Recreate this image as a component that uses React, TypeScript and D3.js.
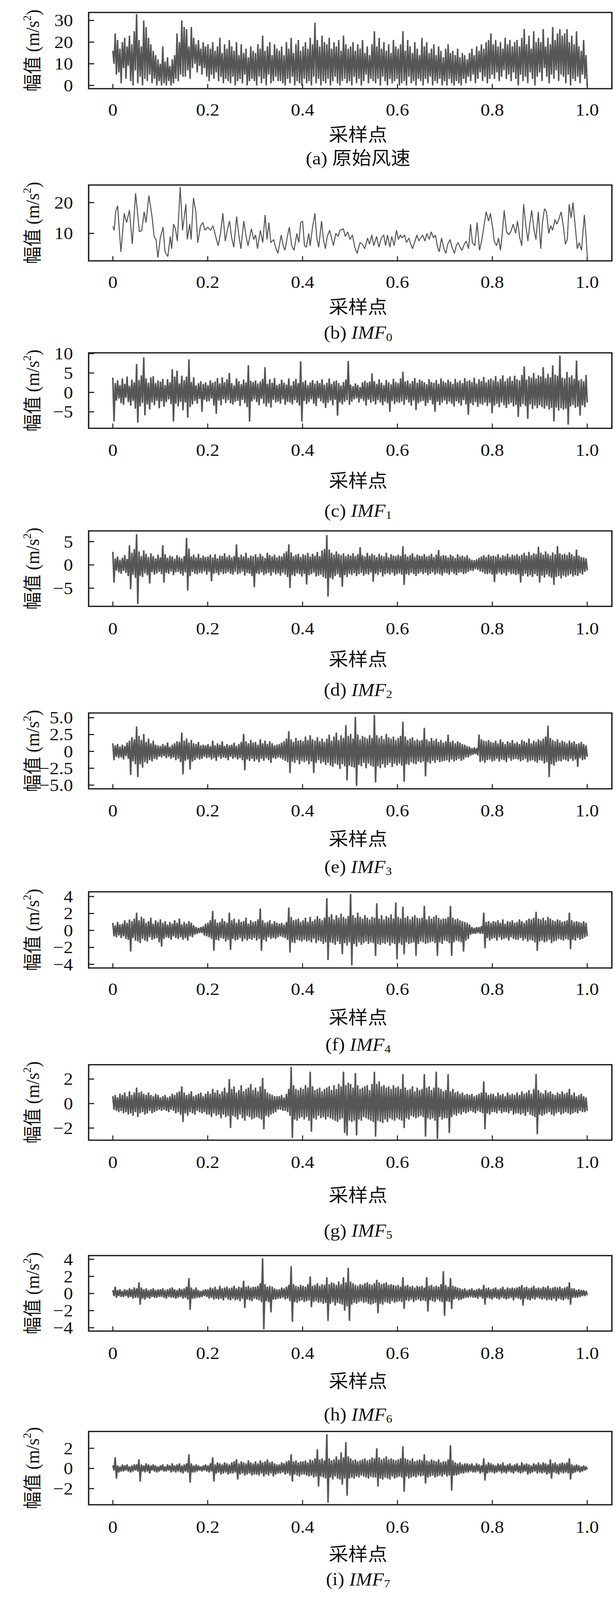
import React from 'react';
import * as d3 from 'd3';

// ---------- shared axis data ----------
const xTickValues = [0, 0.2, 0.4, 0.6, 0.8, 1.0];
const xTickLabels = ['0', '0.2', '0.4', '0.6', '0.8', '1.0'];
const xDomain: [number, number] = [-0.051, 1.052];

// ---------- (a) original wind speed ----------
const windSpeed = [
  16,10,24,5,21,6,17,1,20,8,22,3,18,9,23,2,19,0,25,7,
  33,1,21,4,18,0,30,3,27,2,22,5,19,1,16,3,14,0,12,2,
  10,0,18,1,11,0,13,2,9,0,12,1,14,3,24,2,20,5,30,4,
  27,4,26,7,18,3,27,8,22,10,19,6,21,9,17,5,20,8,18,4,
  19,2,17,5,20,3,16,6,18,2,22,4,15,1,19,3,17,2,21,1,
  18,4,16,0,20,2,14,3,19,1,15,5,17,0,13,2,18,3,16,2,
  15,0,19,4,17,1,23,3,16,0,18,5,20,1,14,2,19,4,17,2,
  16,2,18,1,14,0,20,3,17,1,22,4,15,0,19,2,21,1,16,0,
  18,3,20,1,17,2,22,0,19,4,29,1,21,3,18,0,23,2,20,1,
  19,3,22,0,17,2,20,4,18,1,21,0,16,2,23,3,19,1,17,2,
  18,0,20,4,16,1,19,3,17,0,21,2,15,5,18,1,14,3,19,2,
  25,1,18,3,22,0,17,4,20,2,16,0,19,3,15,1,21,2,18,3,
  17,0,19,1,25,2,16,0,21,4,18,1,15,2,20,0,17,3,14,2,
  22,0,18,3,20,1,15,4,17,0,19,2,14,1,18,3,16,0,13,2,
  17,0,19,3,15,1,16,0,14,2,17,1,13,0,15,3,14,1,12,4,
  15,2,17,5,14,1,18,3,16,6,19,2,17,4,20,1,21,3,24,5,
  19,3,21,6,18,2,20,4,17,7,22,3,19,5,21,2,18,6,20,3,
  21,0,18,5,22,2,26,4,19,1,23,6,17,3,25,0,20,4,22,6,
  20,2,26,8,18,4,22,1,19,5,27,3,21,7,24,2,26,5,23,4,
  24,1,26,5,20,0,23,3,19,2,25,4,18,1,16,5,21,3,14,0,
];

// ---------- (b) IMF0 : sampling position and value ----------
const imf0T = [
  0,0.003,0.006,0.010,0.017,0.024,0.029,0.035,0.041,0.048,0.056,0.061,0.066,0.070,0.076,0.083,0.087,0.091,0.095,0.100,
  0.106,0.110,0.116,0.121,0.124,0.128,0.132,0.136,0.142,0.147,0.154,0.157,0.162,0.165,0.170,0.175,0.179,0.185,0.190,0.194,
  0.200,0.206,0.211,0.216,0.222,0.227,0.232,0.237,0.242,0.246,0.250,0.255,0.261,0.266,0.270,0.276,0.281,0.285,0.292,0.297,
  0.301,0.305,0.311,0.316,0.321,0.325,0.329,0.333,0.339,0.343,0.348,0.355,0.359,0.363,0.368,0.372,0.377,0.382,0.388,0.392,
  0.396,0.400,0.404,0.408,0.413,0.416,0.421,0.426,0.430,0.434,0.440,0.444,0.448,0.452,0.457,0.461,0.465,0.470,0.475,0.479,
  0.486,0.490,0.495,0.500,0.505,0.510,0.515,0.521,0.526,0.531,0.537,0.541,0.546,0.550,0.556,0.561,0.566,0.571,0.575,0.579,
  0.584,0.588,0.593,0.598,0.602,0.606,0.610,0.615,0.619,0.624,0.628,0.632,0.637,0.641,0.645,0.649,0.653,0.658,0.662,0.667,
  0.671,0.676,0.680,0.684,0.688,0.693,0.698,0.702,0.706,0.711,0.715,0.720,0.724,0.728,0.732,0.736,0.741,0.745,0.750,0.754,
  0.758,0.763,0.768,0.773,0.778,0.782,0.787,0.792,0.796,0.801,0.804,0.809,0.813,0.817,0.821,0.825,0.830,0.835,0.840,0.844,
  0.849,0.853,0.858,0.862,0.866,0.871,0.875,0.879,0.883,0.888,0.892,0.897,0.902,0.906,0.910,0.914,0.919,0.923,0.927,0.932,
  0.936,0.940,0.945,0.950,0.954,0.958,0.962,0.966,0.970,0.975,0.979,0.983,0.988,0.994,0.998,1.0,
];
const imf0V = [
  12.3,11,17,19,4,16.5,13.5,17.5,6.5,23,10.5,11,17,13.5,22.3,15,9,8,2.1,8.5,
  12,4,2.5,9,5,13,11.5,7.5,25,11,19.5,8,13,8,21.5,17,7,12.5,13.5,11,
  12,11,12.5,9.5,6,10,16.5,7.5,11.5,14,9,5.5,15.5,9,5,14,9,6,11.5,8,
  9.5,5,11,7,16,8,13.5,7,8,5.5,3.5,9.5,6,4.5,9,12,6,4.5,10,7,
  13.5,14,6,5.5,10,6,12,16.5,8.5,5.5,14,8,5,9,11,8.5,6,10,9,11,
  11.5,9,10.5,8,9.5,5.5,3.5,7,6.5,5,8.5,6.5,9.5,6,9,5.5,8.5,9.5,6,9.5,
  5.5,9,6,11,8,9.5,8.5,9.5,7,8.5,6.5,5,7.5,9.5,7.5,8.5,9.5,7.5,10,8,
  10.5,8.5,9.5,6,4,8.5,5,3.5,6.5,8,5.5,3.5,6,7,5.5,4.5,6.5,7.5,5,13,
  7,6,13.5,4.5,8,12,17,14,16.5,11.5,7.5,6,8.5,4.5,10,17.5,10.5,9.5,11,13,
  10,14,8.5,6,19.5,12,7.5,13,17.5,11,8,17,5,14,18,17,10,12.5,11,14.5,
  13,14.5,17,12,6.5,8,19.5,15,20,12,5,7,4.5,16,8,2.7,
];

// ---------- (c)-(i) IMF1..IMF7 ----------
const imf1 = [
  3.8,-7.5,2.4,-2.1,3.1,-1.6,1.9,-2.8,3.6,-3.2,2.2,-1.4,4.1,-2.5,1.7,-3.4,3.3,-2.2,2.6,-4.2,
  7.3,-7.8,3.2,-3.6,4.4,-2.7,9.0,-5.9,3.6,-3.1,2.5,-4.4,3.9,-2.6,4.2,-3.3,2.4,-2.2,3.1,-4.1,
  2.8,-2.3,3.5,-3.7,1.9,-2.5,3.4,-1.8,2.6,-3.0,6.0,-7.5,4.1,-2.9,5.6,-3.6,2.3,-2.4,4.3,-4.6,
  3.2,-2.6,4.1,-6.5,8.5,-3.8,2.7,-3.1,3.9,-2.2,1.8,-2.9,2.4,-1.7,2.9,-5.0,2.2,-1.9,2.6,-2.4,
  1.9,-2.3,3.1,-1.6,2.5,-3.4,2.8,-5.5,3.7,-2.1,2.3,-3.3,3.9,-1.8,2.6,-2.7,3.4,-2.0,5.0,-2.8,
  2.4,-3.1,1.8,-2.4,3.6,-2.2,2.9,-3.5,2.1,-1.9,3.3,-2.8,2.6,-3.8,7.0,-7.5,3.0,-2.3,2.7,-1.8,
  3.1,-2.5,2.3,-3.3,2.8,-1.7,3.5,-2.9,6.5,-3.6,2.2,-2.8,3.4,-3.9,2.5,-1.9,3.7,-2.6,1.9,-2.4,
  2.2,-2.9,3.3,-1.8,2.5,-3.2,2.0,-2.4,3.6,-2.6,1.8,-3.1,2.9,-2.0,3.5,-2.7,2.4,-3.4,8.0,-7.5,
  2.7,-2.2,3.1,-3.0,1.9,-2.5,2.6,-1.8,3.2,-2.9,2.3,-3.5,3.0,-1.6,2.4,-2.3,3.4,-2.8,2.0,-4.0,
  2.5,-2.7,3.6,-2.1,2.2,-3.3,2.9,-1.9,3.1,-6.0,2.4,-2.6,1.8,-3.1,2.7,-2.4,3.3,-2.0,8.1,-3.2,
  2.0,-2.4,1.6,-1.8,2.3,-1.5,1.9,-2.6,1.4,-1.7,2.6,-2.2,3.0,-3.4,2.5,-1.9,2.8,-2.7,4.9,-2.3,
  2.9,-3.1,2.2,-2.0,3.4,-2.6,2.5,-3.3,1.9,-2.4,3.2,-2.8,2.6,-5.0,2.1,-2.2,3.5,-3.0,2.7,-2.5,
  2.4,-2.7,3.6,-2.3,5.3,-3.2,2.8,-1.9,3.1,-2.6,2.3,-3.4,2.9,-2.1,3.7,-4.6,2.5,-2.8,3.3,-2.4,
  3.0,-2.2,2.6,-3.5,2.1,-2.7,3.4,-2.0,2.7,-3.1,2.5,-5.0,3.2,-2.4,2.2,-3.3,3.6,-2.6,2.9,-2.1,
  2.5,-3.0,3.3,-2.4,2.8,-2.9,2.2,-3.6,3.5,-2.3,2.6,-2.8,3.1,-3.4,2.4,-2.0,3.7,-3.1,2.9,-5.8,
  3.2,-2.8,2.7,-3.3,3.8,-2.5,2.3,-3.7,3.4,-2.9,2.9,-3.2,4.0,-2.6,2.6,-3.5,3.3,-2.7,3.6,-5.4,
  3.1,-3.4,4.2,-2.9,2.8,-3.8,3.5,-2.6,4.4,-3.3,2.9,-4.0,3.6,-3.1,4.1,-2.7,3.0,-3.6,4.3,-3.2,
  3.4,-6.3,3.1,-3.7,4.5,-3.0,6.7,-3.5,3.3,-6.8,4.2,-3.1,3.8,-4.3,5.0,-3.4,3.6,-4.1,4.4,-3.3,
  4.1,-3.8,6.5,-4.2,3.7,-3.5,4.8,-4.4,3.9,-4.0,7.0,-7.5,4.6,-3.9,4.3,-4.7,9.5,-4.1,3.8,-4.5,
  3.6,-4.2,5.3,-8.3,3.9,-3.6,4.4,-3.2,3.5,-4.0,8.2,-3.7,3.1,-6.0,3.4,-3.3,2.9,-3.8,4.5,-2.6,
];

const imf2 = [
  2.8,-3.8,1.4,-1.2,1.8,-1.6,1.1,-1.9,1.5,-1.3,2.1,-1.7,1.3,-2.4,4.2,-5.2,2.6,-2.1,3.4,-2.8,
  6.6,-8.4,2.9,-2.3,1.9,-2.6,3.1,-1.8,2.4,-2.2,1.7,-4.0,2.5,-1.6,1.9,-2.1,1.4,-1.8,2.2,-1.5,
  1.6,-2.0,4.2,-3.8,2.3,-1.7,1.5,-1.9,2.0,-1.4,1.8,-2.2,1.3,-1.6,2.1,-1.5,1.7,-1.9,1.4,-2.3,
  1.9,-1.6,5.8,-5.5,3.5,-2.4,1.8,-1.5,2.2,-1.9,1.6,-2.0,2.4,-1.7,1.5,-1.8,2.0,-1.4,1.7,-2.1,
  1.8,-1.5,2.2,-3.5,1.6,-1.9,2.3,-1.7,1.4,-2.2,2.0,-1.6,1.9,-2.0,2.5,-1.8,1.7,-1.5,2.1,-1.9,
  1.6,-2.1,1.9,-1.5,4.4,-2.0,1.7,-1.8,2.2,-1.4,1.8,-2.3,2.6,-1.7,1.5,-1.9,2.0,-2.4,1.9,-4.8,
  2.3,-1.8,1.7,-2.0,2.4,-1.6,1.9,-2.2,1.5,-1.9,2.6,-1.7,2.1,-2.3,1.8,-1.6,2.2,-2.0,1.6,-1.8,
  2.0,-2.3,1.8,-1.7,2.5,-2.1,2.9,-2.6,4.4,-5.0,2.7,-2.2,1.9,-2.4,2.2,-1.8,2.4,-2.0,1.7,-2.5,
  2.3,-1.9,2.1,-4.2,2.6,-2.2,1.8,-2.0,2.4,-1.7,2.0,-2.5,2.8,-2.3,1.9,-2.1,3.1,-2.6,3.4,-2.9,
  6.4,-6.8,3.3,-2.8,2.6,-3.1,2.2,-2.4,2.9,-2.0,2.4,-2.7,2.1,-4.7,2.5,-2.2,1.9,-2.6,2.3,-1.9,
  2.0,-2.2,2.5,-1.8,1.9,-2.4,2.3,-2.0,3.8,-1.7,2.1,-2.3,1.8,-1.9,2.6,-2.1,2.0,-1.6,2.4,-3.6,
  2.1,-1.9,1.7,-2.2,2.4,-1.6,2.0,-2.5,1.8,-2.0,2.6,-1.8,1.6,-2.1,2.3,-1.7,2.0,-2.3,1.9,-2.0,
  2.2,-1.8,1.9,-2.1,4.0,-4.3,2.3,-2.0,1.8,-2.2,2.1,-1.7,2.5,-2.0,1.7,-2.4,2.2,-1.9,2.0,-1.6,
  1.9,-2.0,2.3,-1.7,1.8,-2.2,2.0,-1.9,2.4,-1.6,1.7,-2.1,2.2,-1.8,3.2,-2.0,1.9,-2.3,2.1,-1.7,
  2.0,-1.8,1.6,-2.1,2.2,-1.5,1.9,-1.9,1.5,-2.2,2.3,-1.7,1.8,-1.6,2.0,-2.0,1.7,-1.8,2.1,-1.5,
  1.4,-1.2,1.1,-1.3,1.0,-0.9,1.2,-1.1,1.5,-1.4,1.8,-1.6,2.1,-1.9,1.7,-2.0,2.2,-1.8,1.9,-2.1,
  2.0,-3.7,1.8,-2.0,2.3,-1.7,1.6,-2.1,2.1,-1.8,1.9,-2.3,2.4,-1.6,1.7,-2.0,2.2,-1.9,2.0,-2.2,
  2.3,-2.0,1.9,-3.8,2.2,-2.4,2.6,-1.9,2.0,-2.5,2.8,-2.2,2.1,-2.6,2.5,-2.0,2.3,-2.4,3.9,-3.8,
  2.6,-2.3,2.2,-2.7,2.9,-2.1,2.4,-2.5,2.0,-2.8,2.7,-4.3,2.3,-2.6,4.0,-2.4,2.5,-2.9,2.2,-2.3,
  2.4,-2.6,2.1,-2.3,2.7,-2.0,2.3,-2.5,1.9,-2.2,3.3,-2.4,2.0,-1.8,1.7,-2.1,1.6,-1.5,1.4,-1.2,
];

const imf3 = [
  1.2,-1.3,0.9,-0.8,1.1,-1.0,0.7,-0.9,1.0,-1.2,0.8,-0.7,1.3,-1.1,1.6,-3.5,2.1,-1.5,1.8,-1.9,
  3.7,-3.8,2.3,-1.9,1.7,-2.4,2.6,-1.6,1.4,-1.8,1.9,-1.3,1.2,-1.5,1.6,-1.1,1.0,-1.2,0.9,-0.8,
  0.8,-0.9,1.1,-0.7,0.9,-1.0,1.3,-0.8,0.7,-1.1,1.0,-0.9,1.2,-1.3,1.5,-1.1,1.4,-1.6,2.8,-3.4,
  1.6,-1.4,1.9,-1.2,1.3,-2.7,1.7,-1.5,1.2,-1.3,1.1,-1.0,1.4,-1.2,0.9,-1.1,1.0,-0.8,0.9,-1.0,
  1.1,-0.9,0.8,-1.2,1.6,-1.0,0.9,-1.4,1.2,-0.8,1.0,-1.1,1.5,-0.9,0.8,-1.0,1.1,-1.3,0.9,-0.8,
  1.0,-1.1,1.3,-0.9,0.8,-1.2,1.1,-1.0,1.4,-1.3,2.6,-2.8,1.5,-1.2,1.2,-1.4,1.7,-1.1,1.3,-1.5,
  1.4,-1.2,1.0,-1.6,1.8,-1.1,1.2,-1.4,1.6,-1.0,1.1,-1.3,1.5,-1.7,1.2,-1.0,0.9,-1.1,1.0,-0.9,
  1.1,-1.0,1.3,-1.2,1.5,-1.4,1.9,-1.6,3.0,-3.2,1.8,-1.5,1.4,-1.7,2.0,-1.3,1.6,-1.9,1.7,-1.4,
  1.5,-1.6,2.2,-1.4,1.7,-1.9,2.4,-1.5,1.8,-3.2,1.6,-1.7,2.1,-1.3,1.5,-1.8,1.9,-1.6,1.4,-2.0,
  1.9,-1.7,2.5,-2.1,1.6,-2.3,2.2,-1.8,2.8,-2.0,1.7,-2.6,2.4,-1.9,2.0,-2.2,3.9,-4.3,2.3,-2.1,
  2.6,-2.3,1.9,-2.4,5.1,-5.1,2.5,-2.0,1.8,-2.2,2.3,-1.7,2.1,-2.5,1.9,-1.8,2.4,-2.1,2.0,-2.3,
  5.4,-4.6,2.4,-2.2,2.0,-2.5,2.3,-1.9,1.8,-2.4,2.6,-2.0,2.1,-1.7,1.9,-2.3,2.2,-1.8,1.7,-2.1,
  2.0,-1.8,2.3,-2.1,4.4,-4.5,2.2,-1.9,1.7,-2.0,1.9,-1.6,2.1,-1.8,1.6,-1.9,1.8,-1.5,1.6,-1.7,
  1.7,-1.5,3.5,-3.7,1.8,-1.6,1.5,-1.8,2.0,-1.4,1.6,-1.7,1.9,-1.3,1.4,-1.6,1.7,-1.5,1.3,-1.4,
  1.5,-1.3,2.5,-1.6,1.4,-1.2,1.6,-1.5,1.2,-1.3,1.5,-1.1,1.3,-1.4,1.1,-1.2,1.0,-0.9,0.8,-0.9,
  0.7,-0.6,0.5,-0.5,0.6,-0.4,0.5,-0.6,2.5,-1.6,1.8,-1.4,1.6,-1.7,1.5,-1.3,1.7,-1.2,1.4,-1.5,
  1.3,-1.4,1.6,-1.1,1.2,-1.5,1.8,-1.2,1.4,-1.3,1.1,-1.6,1.5,-1.0,1.3,-1.4,1.7,-1.2,1.2,-1.1,
  1.4,-1.2,1.1,-1.5,1.7,-1.3,1.5,-1.1,1.3,-1.6,1.9,-1.4,1.2,-1.3,1.6,-1.5,1.4,-1.7,1.8,-1.3,
  1.6,-1.4,1.9,-1.8,2.2,-1.6,3.8,-3.8,2.0,-1.9,1.7,-2.1,1.5,-1.6,1.8,-1.4,1.3,-1.5,1.6,-1.2,
  1.4,-1.3,1.2,-1.5,1.6,-1.1,1.3,-1.4,1.5,-1.2,1.1,-2.3,1.2,-1.0,1.4,-1.3,1.1,-1.2,0.9,-0.8,
];

const imf4 = [
  0.9,-0.7,0.6,-0.8,1.0,-0.6,0.7,-0.9,0.8,-0.7,1.2,-1.0,0.9,-1.1,1.3,-2.5,1.1,-0.9,1.4,-1.2,
  2.1,-1.3,1.2,-1.5,1.6,-1.0,1.4,-1.2,0.9,-1.3,1.1,-0.8,1.5,-1.1,0.8,-1.0,1.2,-0.9,1.0,-1.4,
  1.3,-1.9,0.9,-1.0,1.1,-0.8,0.7,-0.9,1.0,-1.1,0.8,-0.7,1.2,-0.9,0.9,-1.0,1.4,-0.8,0.7,-1.1,
  1.0,-0.9,0.8,-1.2,1.1,-0.7,0.9,-0.8,0.6,-0.5,0.4,-0.4,0.3,-0.3,0.4,-0.3,0.5,-0.6,0.8,-0.7,
  0.9,-0.8,1.2,-1.0,2.3,-2.4,1.3,-1.1,0.9,-1.2,1.0,-0.9,1.4,-1.0,1.1,-1.3,0.9,-1.1,2.1,-2.3,
  1.2,-1.0,1.4,-1.2,0.9,-1.1,1.3,-0.9,1.0,-1.3,1.1,-1.0,1.5,-1.2,0.8,-1.0,1.2,-1.1,1.0,-0.9,
  1.1,-1.2,1.3,-1.0,2.6,-2.4,1.2,-1.1,0.9,-1.3,1.0,-0.8,1.2,-1.0,0.8,-0.9,1.1,-1.0,0.9,-0.8,
  0.8,-0.7,0.9,-0.8,0.7,-0.9,1.0,-1.1,2.7,-2.6,1.6,-1.4,1.2,-1.5,1.3,-1.1,1.4,-1.2,1.0,-1.3,
  1.2,-1.1,1.5,-1.3,1.0,-1.2,1.6,-1.4,1.1,-1.0,1.3,-1.5,1.7,-1.2,1.4,-1.3,1.2,-1.6,1.5,-1.4,
  3.8,-3.5,1.6,-1.4,1.9,-1.5,1.3,-1.7,1.8,-1.3,1.5,-1.6,2.0,-2.8,1.6,-1.5,1.4,-1.8,1.7,-1.4,
  4.3,-4.1,1.8,-1.6,1.5,-1.9,2.1,-1.4,1.6,-1.7,1.4,-1.5,1.8,-1.3,1.5,-1.6,1.3,-1.4,1.6,-1.5,
  1.5,-3.0,3.2,-1.6,1.4,-1.7,1.8,-1.5,1.3,-1.6,1.7,-1.4,1.5,-1.8,1.9,-1.5,1.4,-1.6,3.3,-3.4,
  1.6,-1.5,1.4,-1.7,2.8,-2.8,1.5,-1.4,1.7,-1.6,1.3,-1.5,1.6,-1.4,1.8,-3.0,1.5,-1.6,1.4,-1.3,
  1.5,-1.4,2.9,-1.6,1.3,-1.5,1.7,-1.4,1.4,-1.3,1.6,-1.5,1.8,-3.0,1.5,-1.4,1.3,-1.6,1.4,-1.2,
  1.4,-1.3,1.6,-1.5,2.9,-3.0,1.5,-1.4,1.3,-1.2,1.4,-1.3,1.2,-1.4,1.1,-2.5,1.0,-1.2,0.9,-1.0,
  0.7,-0.5,0.4,-0.4,0.3,-0.4,0.4,-0.3,0.4,-0.4,0.5,-0.4,2.1,-2.1,1.0,-0.9,1.1,-1.2,0.9,-1.0,
  1.1,-0.9,1.0,-1.2,1.2,-0.8,0.9,-1.1,1.3,-1.0,0.8,-0.9,1.1,-1.2,1.0,-0.8,1.2,-1.0,0.9,-1.1,
  1.0,-1.1,1.3,-0.9,1.1,-1.2,0.9,-1.0,1.2,-1.3,1.4,-1.1,1.3,-1.2,1.5,-1.4,2.2,-2.4,1.4,-1.3,
  1.3,-1.2,1.5,-1.4,1.2,-1.3,1.6,-1.1,1.4,-1.5,1.2,-1.3,1.1,-1.2,1.3,-1.0,1.2,-1.1,1.0,-1.2,
  1.1,-1.0,1.2,-1.1,2.1,-2.2,1.2,-1.1,1.0,-1.2,1.1,-0.9,1.0,-1.1,0.9,-1.0,1.1,-0.8,0.9,-0.7,
];

const imf5 = [
  0.6,-0.5,0.7,-0.6,0.5,-0.7,0.8,-0.6,0.7,-0.8,0.9,-0.7,0.6,-0.9,1.0,-0.8,0.7,-1.0,0.9,-0.7,
  1.3,-1.1,0.9,-0.8,1.0,-0.7,0.8,-0.9,0.7,-0.8,0.9,-0.6,0.7,-0.8,0.6,-0.7,0.8,-0.6,0.7,-0.5,
  0.5,-0.6,0.6,-0.5,0.7,-0.6,0.5,-0.7,0.6,-0.5,0.8,-0.6,0.7,-0.8,0.9,-0.7,1.0,-0.9,1.4,-1.5,
  0.9,-0.8,0.7,-1.0,0.8,-0.7,1.0,-0.8,0.6,-0.9,0.7,-0.6,0.8,-0.7,0.9,-0.8,0.6,-0.7,0.8,-0.9,
  1.0,-0.9,0.8,-1.1,1.2,-0.8,0.9,-1.0,1.1,-0.9,0.8,-1.2,1.0,-0.9,1.3,-1.1,0.9,-1.0,2.0,-2.0,
  1.2,-1.0,1.4,-1.1,0.9,-1.3,1.1,-0.9,1.5,-1.2,1.0,-1.4,1.2,-1.0,1.3,-1.1,1.6,-1.3,1.1,-1.2,
  1.3,-1.1,1.0,-1.2,1.4,-1.3,2.1,-2.1,1.2,-1.0,0.9,-1.1,0.8,-0.9,0.7,-0.8,0.6,-0.7,0.6,-0.5,
  0.6,-0.5,0.7,-0.6,0.5,-0.6,0.8,-0.7,1.2,-1.0,3.0,-2.8,1.5,-1.3,1.2,-1.4,1.1,-1.2,1.3,-1.1,
  1.2,-1.3,1.5,-1.1,1.3,-1.4,2.6,-2.3,1.4,-1.2,1.1,-1.3,1.2,-1.0,1.3,-1.2,1.0,-1.1,1.2,-1.3,
  1.3,-1.1,1.4,-1.2,1.1,-1.3,1.5,-1.4,1.2,-1.5,1.6,-1.3,1.4,-1.2,2.6,-2.4,1.5,-2.6,1.7,-1.4,
  1.6,-1.5,1.3,-1.4,2.5,-2.6,1.5,-1.3,1.2,-1.4,1.3,-1.1,1.4,-1.2,1.5,-1.3,1.1,-1.4,1.6,-1.5,
  2.6,-2.7,1.6,-1.4,1.8,-1.5,1.4,-1.6,1.5,-1.3,1.3,-1.5,1.4,-1.2,1.2,-1.3,1.5,-1.4,1.3,-1.2,
  1.4,-1.3,1.2,-1.4,2.4,-2.0,1.3,-1.2,1.1,-1.3,1.2,-1.0,1.4,-1.1,1.0,-1.2,1.3,-1.1,1.1,-1.0,
  1.2,-1.1,2.4,-2.7,1.3,-1.2,1.4,-1.3,1.1,-1.2,1.3,-1.4,2.6,-2.9,1.3,-1.1,1.2,-1.3,1.0,-1.2,
  1.1,-1.2,2.4,-2.4,1.0,-1.1,1.2,-0.9,0.9,-1.0,1.0,-0.8,0.8,-0.9,0.9,-0.7,0.7,-0.8,0.8,-0.7,
  0.7,-0.6,0.8,-0.7,0.6,-0.8,0.7,-0.6,0.8,-0.7,0.9,-0.8,1.8,-2.1,0.9,-0.8,0.7,-0.9,0.8,-0.7,
  0.8,-0.7,0.6,-0.8,0.9,-0.6,0.7,-0.8,0.8,-0.7,0.6,-0.7,0.9,-0.8,0.7,-0.6,0.8,-0.9,0.7,-0.8,
  0.9,-0.8,0.7,-0.9,1.0,-0.8,0.8,-1.0,0.9,-0.7,1.1,-0.9,0.8,-1.0,1.2,-1.1,2.4,-2.5,1.1,-0.9,
  0.9,-1.0,0.8,-0.9,1.1,-0.8,0.9,-0.7,1.0,-0.9,0.8,-1.0,0.7,-0.8,0.9,-0.7,0.8,-0.9,1.0,-0.8,
  0.8,-0.7,0.9,-0.8,1.2,-0.9,0.7,-0.8,0.9,-0.7,0.6,-0.8,0.7,-0.6,0.8,-0.7,0.6,-0.7,0.5,-0.6,
];

const imf6 = [
  0.4,-0.3,0.8,-0.5,0.4,-0.3,0.5,-0.4,0.3,-0.4,0.5,-0.3,0.4,-0.5,0.6,-0.4,0.5,-0.6,0.7,-0.5,
  0.6,-0.5,1.3,-1.3,0.7,-0.6,0.5,-0.7,0.6,-0.5,0.4,-0.6,0.5,-0.4,0.6,-0.5,0.4,-0.5,0.5,-0.4,
  0.5,-0.4,0.6,-0.5,0.4,-0.6,0.5,-0.4,0.6,-0.5,0.7,-0.5,0.5,-0.6,0.4,-0.5,0.6,-0.4,0.5,-0.6,
  0.6,-0.5,0.8,-0.7,1.8,-1.9,0.7,-0.6,0.5,-0.6,0.7,-0.5,0.4,-0.5,0.3,-0.4,0.4,-0.3,0.5,-0.4,
  0.5,-0.6,0.7,-0.5,0.6,-0.7,0.8,-0.6,0.5,-0.7,0.9,-0.6,0.6,-0.8,0.7,-0.5,0.8,-0.7,0.6,-0.8,
  0.7,-0.6,0.9,-0.8,0.6,-0.7,0.8,-0.9,0.7,-0.6,1.5,-1.7,0.8,-0.7,0.9,-0.8,0.7,-0.9,0.8,-0.6,
  0.8,-0.7,0.9,-0.8,1.2,-1.0,4.1,-4.2,1.1,-0.9,0.8,-1.0,0.9,-2.2,0.8,-0.7,0.6,-0.7,0.5,-0.6,
  0.5,-0.6,0.7,-0.5,0.6,-0.7,0.8,-0.6,1.0,-0.9,3.2,-3.3,1.1,-1.0,0.9,-1.1,0.8,-0.9,1.0,-0.8,
  0.9,-1.0,0.8,-0.9,1.1,-0.8,2.0,-1.6,0.9,-1.0,1.0,-0.9,1.2,-1.1,0.9,-1.0,1.1,-1.2,1.0,-1.1,
  1.9,-3.2,1.1,-1.2,1.3,-1.0,1.2,-1.4,1.0,-1.1,1.4,-1.2,1.1,-1.3,1.9,-2.0,1.3,-1.5,3.0,-3.2,
  1.4,-1.3,1.2,-1.1,1.0,-1.2,0.9,-1.0,1.1,-0.9,1.0,-1.1,1.2,-1.0,1.3,-1.2,1.1,-1.3,1.0,-1.2,
  1.2,-1.1,1.6,-2.3,1.3,-1.2,1.1,-1.3,1.2,-1.0,1.3,-1.1,1.0,-1.2,1.1,-0.9,1.0,-1.1,0.9,-1.0,
  1.0,-0.9,0.8,-1.0,1.9,-1.8,0.9,-0.8,1.0,-0.9,0.8,-0.7,0.9,-1.0,0.7,-0.8,0.9,-0.7,0.8,-0.9,
  0.9,-0.8,0.7,-0.9,1.9,-2.1,0.9,-0.8,1.0,-0.9,0.8,-1.0,0.9,-0.7,0.8,-0.9,1.1,-1.0,2.6,-2.6,
  1.0,-0.9,0.8,-1.0,1.8,-1.8,0.9,-0.7,0.8,-0.6,0.7,-0.8,0.6,-0.7,0.5,-0.6,0.6,-0.5,0.4,-0.5,
  0.5,-0.4,0.6,-0.5,0.4,-0.5,0.5,-0.6,0.6,-0.4,0.5,-0.6,1.0,-1.3,0.6,-0.5,0.7,-0.6,0.5,-0.7,
  0.6,-0.5,0.7,-0.6,0.5,-0.7,0.6,-0.5,0.8,-0.6,0.5,-0.7,0.7,-0.6,0.6,-0.5,0.7,-0.8,0.6,-0.5,
  0.7,-0.6,0.8,-0.7,1.0,-1.4,0.7,-0.6,0.8,-0.7,0.6,-0.8,0.7,-0.6,0.9,-0.7,0.6,-0.5,0.7,-0.6,
  0.6,-0.7,0.8,-0.6,0.7,-0.8,0.9,-0.7,0.6,-0.8,0.7,-0.6,0.8,-0.9,0.7,-0.6,0.8,-0.7,0.6,-0.8,
  0.7,-0.6,0.8,-0.7,1.3,-1.3,0.6,-0.5,0.6,-0.5,0.4,-0.5,0.5,-0.4,0.4,-0.3,0.4,-0.3,0.3,-0.2,
];

const imf7 = [
  0.3,-0.2,1.1,-1.0,0.3,-0.4,0.2,-0.3,0.4,-0.3,0.3,-0.2,0.4,-0.3,0.2,-0.4,0.3,-0.3,0.4,-0.2,
  0.4,-0.3,0.9,-1.3,0.4,-0.3,0.3,-0.4,0.5,-0.3,0.4,-0.5,0.3,-0.2,0.4,-0.3,0.3,-0.4,0.2,-0.3,
  0.3,-0.2,0.4,-0.3,0.2,-0.3,0.4,-0.2,0.3,-0.4,0.5,-0.3,0.3,-0.4,0.4,-0.3,0.5,-0.4,0.3,-0.5,
  0.4,-0.3,0.5,-0.4,1.4,-1.4,0.5,-0.4,0.3,-0.4,0.4,-0.3,0.3,-0.2,0.2,-0.3,0.3,-0.2,0.4,-0.3,
  0.3,-0.4,0.5,-0.3,1.1,-1.3,0.4,-0.5,0.6,-0.4,0.5,-0.6,0.4,-0.5,0.6,-0.4,0.5,-0.6,0.4,-0.5,
  0.6,-0.5,0.7,-0.4,0.9,-1.1,0.5,-0.6,0.7,-0.5,0.6,-0.7,0.5,-0.6,0.8,-0.5,0.6,-0.7,0.5,-0.6,
  0.7,-0.6,0.5,-0.7,0.8,-0.5,0.6,-0.8,0.7,-0.6,0.9,-0.7,0.6,-0.5,0.7,-0.8,0.5,-0.6,0.4,-0.5,
  0.4,-0.5,0.6,-0.4,0.5,-0.6,0.7,-0.5,0.8,-0.7,1.4,-1.3,0.7,-0.6,0.8,-0.7,0.6,-0.8,0.7,-0.6,
  0.7,-0.6,0.8,-0.7,0.6,-0.8,0.9,-0.7,0.8,-0.9,1.0,-0.8,1.9,-1.8,0.9,-0.8,1.0,-0.9,0.8,-1.0,
  3.4,-3.4,1.0,-0.9,0.8,-1.1,0.9,-0.8,1.2,-1.0,0.9,-1.1,1.6,-1.6,1.1,-1.0,2.6,-2.7,1.2,-1.0,
  1.0,-0.9,0.8,-1.0,0.9,-0.8,0.7,-0.9,0.8,-0.7,0.9,-0.8,1.0,-0.9,0.8,-1.0,0.9,-0.8,1.1,-0.9,
  1.0,-0.9,2.0,-1.8,1.1,-1.0,0.9,-1.1,1.0,-0.9,1.2,-1.0,0.9,-1.1,1.0,-0.8,0.9,-1.0,0.8,-0.9,
  0.9,-0.8,1.0,-0.9,2.2,-2.3,1.0,-0.8,0.9,-1.0,0.8,-0.9,1.0,-0.8,0.7,-0.9,0.8,-0.7,0.9,-0.8,
  0.8,-0.7,1.4,-1.5,0.8,-0.9,0.7,-0.8,0.9,-0.7,0.8,-0.9,0.7,-0.8,0.9,-0.7,0.6,-0.8,0.7,-0.6,
  0.7,-0.8,0.9,-0.7,2.3,-2.2,0.8,-0.7,0.6,-0.7,0.5,-0.6,0.6,-0.5,0.4,-0.5,0.5,-0.4,0.5,-0.4,
  0.4,-0.3,0.5,-0.4,0.3,-0.4,0.5,-0.3,0.4,-0.5,0.3,-0.4,1.0,-1.2,0.4,-0.5,0.6,-0.4,0.5,-0.4,
  0.4,-0.5,0.3,-0.4,0.5,-0.3,0.4,-0.5,0.6,-0.4,0.3,-0.5,0.4,-0.3,0.5,-0.4,0.3,-0.5,0.4,-0.3,
  0.5,-0.4,0.3,-0.5,0.6,-0.4,0.4,-0.3,0.5,-0.6,0.4,-0.5,0.3,-0.4,0.5,-0.3,0.4,-0.5,0.6,-0.4,
  0.4,-0.5,0.6,-0.4,0.5,-0.6,0.4,-0.5,0.9,-1.0,0.5,-0.4,0.6,-0.5,0.4,-0.6,0.5,-0.4,0.6,-0.5,
  0.5,-0.4,0.6,-0.5,1.0,-1.1,0.4,-0.5,0.3,-0.4,0.4,-0.3,0.3,-0.4,0.2,-0.3,0.3,-0.2,0.2,-0.1,
];

// ---------- panel descriptions (data) ----------
const panelLetters = ['a', 'b', 'c', 'd', 'e', 'f', 'g', 'h', 'i'];
const panelSubscripts = [null, '0', '1', '2', '3', '4', '5', '6', '7'];
const panelSeries: number[][] = [windSpeed, imf0V, imf1, imf2, imf3, imf4, imf5, imf6, imf7];
const panelPositions: (number[] | null)[] = [null, imf0T, null, null, null, null, null, null, null];
const panelDomains: [number, number][] = [
  [-1.5, 33.7], [1.07, 25.7], [-9.25, 10.2], [-8.9, 7.3], [-5.55, 5.7],
  [-4.43, 4.56], [-2.99, 3.17], [-4.39, 4.43], [-3.6, 3.67],
];
const panelTicks: number[][] = [
  [0, 10, 20, 30], [10, 20], [-5, 0, 5, 10], [-5, 0, 5], [-5, -2.5, 0, 2.5, 5],
  [-4, -2, 0, 2, 4], [-2, 0, 2], [-4, -2, 0, 2, 4], [-2, 0, 2],
];
const panelTickLabels: string[][] = [
  ['0', '10', '20', '30'], ['10', '20'], ['\u22125', '0', '5', '10'], ['\u22125', '0', '5'],
  ['\u22125.0', '\u22122.5', '0', '2.5', '5.0'], ['\u22124', '\u22122', '0', '2', '4'],
  ['\u22122', '0', '2'], ['\u22124', '\u22122', '0', '2', '4'], ['\u22122', '0', '2'],
];
const firstCaption = '原始风速';
const xTitle = '采样点';

// ---------- layout (positions only, in reference pixels) ----------
const W = 1575;
const H = 4367;
const FRAME_L = 227;
const FRAME_R = 1567;
const TEXT_CX = 917;
const layout = [
  { top: 34, bottom: 242, tickY: 300, titleY: 368, capY: 432 },
  { top: 505, bottom: 712, tickY: 770, titleY: 838, capY: 907 },
  { top: 963, bottom: 1169, tickY: 1228, titleY: 1312, capY: 1393 },
  { top: 1449, bottom: 1655, tickY: 1715, titleY: 1800, capY: 1882 },
  { top: 1946, bottom: 2153, tickY: 2212, titleY: 2290, capY: 2365 },
  { top: 2434, bottom: 2642, tickY: 2700, titleY: 2777, capY: 2850 },
  { top: 2906, bottom: 3112, tickY: 3172, titleY: 3262, capY: 3358 },
  { top: 3427, bottom: 3633, tickY: 3693, titleY: 3770, capY: 3860 },
  { top: 3907, bottom: 4107, tickY: 4168, titleY: 4242, capY: 4310 },
];
const strokeWidths = [3.8, 2.6, 4, 4, 4, 4, 4, 4, 4];

const FONT = "'Liberation Serif', 'Times New Roman', 'Noto Sans CJK SC', serif";
const LINE_COLOR = '#565656';
const INK = '#1c1c1c';

function Panel({ idx }: { idx: number }) {
  const L = layout[idx];
  const values = panelSeries[idx];
  const pos = panelPositions[idx];
  const n = values.length;
  const x = d3.scaleLinear().domain(xDomain).range([FRAME_L, FRAME_R]);
  const y = d3.scaleLinear().domain(panelDomains[idx]).range([L.bottom, L.top]);
  const line = d3
    .line<number>()
    .x((_, i) => x(pos ? pos[i] : i / (n - 1)))
    .y((d) => y(d));
  const path = line(values) || '';
  const clipId = `clip-${idx}`;
  const midY = (L.top + L.bottom) / 2;
  const sub = panelSubscripts[idx];

  return (
    <g>
      <defs>
        <clipPath id={clipId}>
          <rect x={FRAME_L} y={L.top} width={FRAME_R - FRAME_L} height={L.bottom - L.top} />
        </clipPath>
      </defs>
      <path
        d={path}
        fill="none"
        stroke={LINE_COLOR}
        strokeWidth={strokeWidths[idx]}
        strokeLinejoin="miter"
        strokeMiterlimit={1.5}
        clipPath={`url(#${clipId})`}
      />
      <rect
        x={FRAME_L}
        y={L.top}
        width={FRAME_R - FRAME_L}
        height={L.bottom - L.top}
        fill="none"
        stroke={INK}
        strokeWidth={3.5}
      />
      {panelTicks[idx].map((t, k) => (
        <g key={`yt${k}`}>
          <line x1={FRAME_L} x2={FRAME_L + 14} y1={y(t)} y2={y(t)} stroke={INK} strokeWidth={3} />
          <text
            x={187}
            y={y(t)}
            textAnchor="end"
            dominantBaseline="central"
            fontFamily={FONT}
            fontSize={48}
            fill="#111"
          >
            {panelTickLabels[idx][k]}
          </text>
        </g>
      ))}
      {xTickValues.map((t, k) => (
        <g key={`xt${k}`}>
          <line x1={x(t)} x2={x(t)} y1={L.bottom} y2={L.bottom - 13} stroke={INK} strokeWidth={2.5} />
          <text
            x={x(t)}
            y={L.tickY}
            textAnchor="middle"
            dominantBaseline="central"
            fontFamily={FONT}
            fontSize={48}
            fill="#111"
          >
            {xTickLabels[k]}
          </text>
        </g>
      ))}
      <text
        transform={`translate(84, ${midY}) rotate(-90)`}
        textAnchor="middle"
        dominantBaseline="central"
        fontFamily={FONT}
        fontSize={48}
        fill="#111"
      >
        幅值 (m/s
        <tspan dy={-15} fontSize={30}>2</tspan>
        <tspan dy={15}>)</tspan>
      </text>
      <text
        x={TEXT_CX}
        y={L.titleY}
        textAnchor="middle"
        dominantBaseline="central"
        fontFamily={FONT}
        fontSize={50}
        fill="#111"
      >
        {xTitle}
      </text>
      <text
        x={TEXT_CX}
        y={L.capY}
        textAnchor="middle"
        dominantBaseline="central"
        fontFamily={FONT}
        fontSize={50}
        fill="#111"
      >
        {`(${panelLetters[idx]}) `}
        {sub === null ? (
          firstCaption
        ) : (
          <>
            <tspan fontStyle="italic">IMF</tspan>
            <tspan fontSize={32} dy={12}>{sub}</tspan>
          </>
        )}
      </text>
    </g>
  );
}

export default function App() {
  // The visible viewport can be shorter than the requested window;
  // scale the drawing vertically so that every panel stays on the page.
  const vh = typeof window !== 'undefined' && window.innerHeight > 500 ? Math.min(window.innerHeight, H) : H;
  return (
    <div style={{ position: 'absolute', left: 0, top: 0, width: W, height: vh, background: '#fff', overflow: 'hidden' }}>
      <svg
        width={W}
        height={vh}
        viewBox={`0 0 ${W} ${H}`}
        preserveAspectRatio="none"
        style={{ display: 'block' }}
      >
        <rect x={0} y={0} width={W} height={H} fill="#fff" />
        {layout.map((_, i) => (
          <Panel key={i} idx={i} />
        ))}
      </svg>
    </div>
  );
}
